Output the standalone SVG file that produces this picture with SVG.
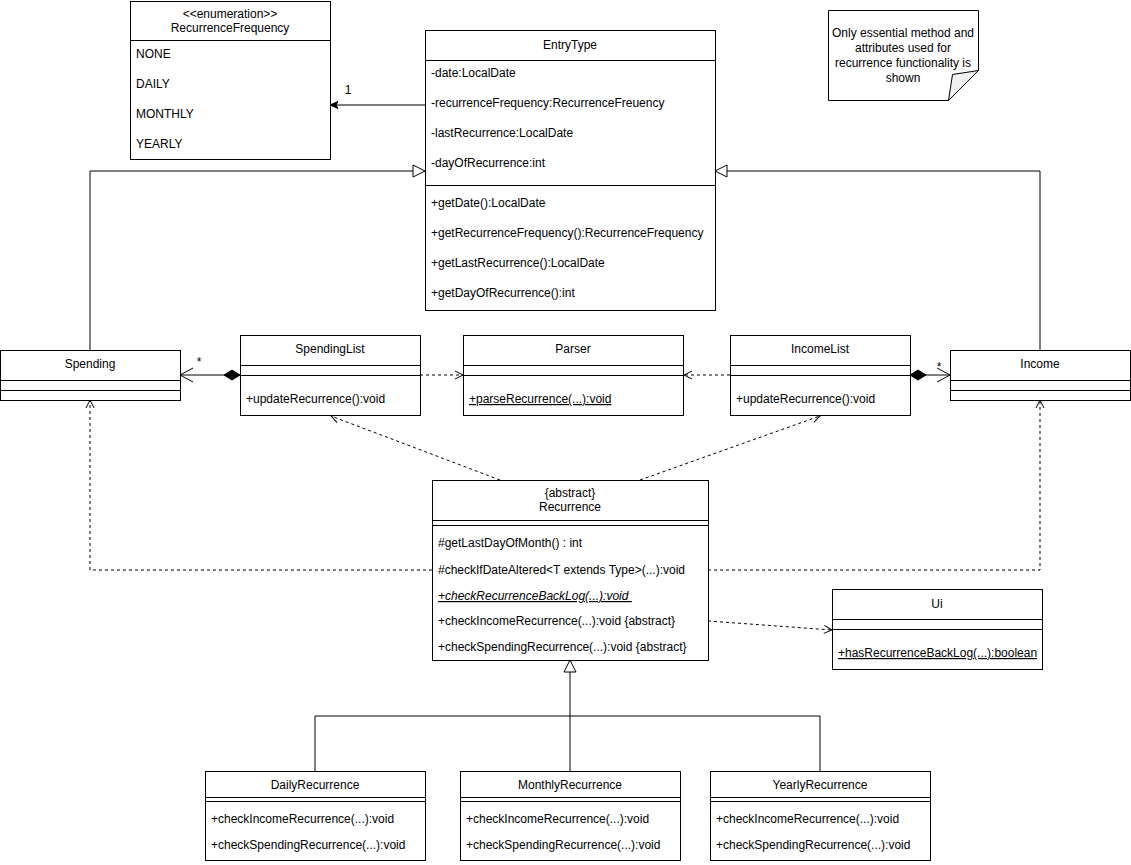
<svg xmlns="http://www.w3.org/2000/svg" width="1131" height="865" viewBox="0 0 1131 865">
<style>
text { font-family: "Liberation Sans", Arial, Helvetica, sans-serif; font-size: 12px; fill: #000; }
.c { text-anchor: middle; }
.box { fill: #fff; stroke: #000; stroke-width: 1; }
.ln { fill: none; stroke: #000; stroke-width: 1; }
.dash { fill: none; stroke: #000; stroke-width: 1; stroke-dasharray: 3,3; }
.u { text-decoration: underline; }
.i { font-style: italic; }
</style>
<defs>
<marker id="open" markerUnits="userSpaceOnUse" markerWidth="12" markerHeight="12" refX="8" refY="4" orient="auto" overflow="visible">
<path d="M0,0 L8,4 L0,8" fill="none" stroke="#000" stroke-width="1"/>
</marker>
<marker id="openBig" markerUnits="userSpaceOnUse" markerWidth="16" markerHeight="16" refX="13" refY="7" orient="auto" overflow="visible">
<path d="M0,0 L13,7 L0,14" fill="none" stroke="#000" stroke-width="1"/>
</marker>
<marker id="tri" markerUnits="userSpaceOnUse" markerWidth="14" markerHeight="14" refX="12" refY="6" orient="auto" overflow="visible">
<path d="M0,0 L12,6 L0,12 Z" fill="#fff" stroke="#000" stroke-width="1"/>
</marker>
<marker id="filled" markerUnits="userSpaceOnUse" markerWidth="10" markerHeight="10" refX="8" refY="3.5" orient="auto" overflow="visible">
<path d="M0,0 L8,3.5 L0,7 L2,3.5 Z" fill="#000" stroke="#000" stroke-width="1"/>
</marker>
<marker id="diamond" markerUnits="userSpaceOnUse" markerWidth="18" markerHeight="12" refX="0" refY="5" orient="auto" overflow="visible">
<path d="M0,5 L8,0 L16,5 L8,10 Z" fill="#000" stroke="#000" stroke-width="1"/>
</marker>
</defs>
<rect width="1131" height="865" fill="#fff"/>

<g id="connectors">
<path class="ln" d="M425,105 L330,105" marker-end="url(#filled)"/>
<text x="348" y="94" class="c">1</text>
<path class="ln" d="M90,350 V171 H425" marker-end="url(#tri)"/>
<path class="ln" d="M1040,350 V171 H715" marker-end="url(#tri)"/>
<path class="ln" d="M240,375 L180,375" marker-start="url(#diamond)" marker-end="url(#openBig)"/>
<text x="199" y="366" class="c">*</text>
<path class="ln" d="M910,375 L950,375" marker-start="url(#diamond)" marker-end="url(#openBig)"/>
<text x="939" y="371" class="c">*</text>
<path class="dash" d="M420,375 L463,375" marker-end="url(#open)"/>
<path class="dash" d="M730,375 L684,375" marker-end="url(#open)"/>
<path class="dash" d="M500,480 L331,416" marker-end="url(#open)"/>
<path class="dash" d="M640,480 L820,416" marker-end="url(#open)"/>
<path class="dash" d="M432,570 H90 V400" marker-end="url(#open)"/>
<path class="dash" d="M708,570 H1040 V400" marker-end="url(#open)"/>
<path class="dash" d="M708,621 L832,630" marker-end="url(#open)"/>
<path class="ln" d="M570,771 V660" marker-end="url(#tri)"/>
<path class="ln" d="M315,771 V716 H820 V771"/>
</g>

<g id="RecurrenceFrequency">
<rect class="box" x="130.5" y="1.5" width="200" height="158"/>
<line class="ln" x1="130.5" y1="40.5" x2="330.5" y2="40.5"/>
<text x="230" y="18" class="c">&lt;&lt;enumeration&gt;&gt;</text>
<text x="230" y="32" class="c">RecurrenceFrequency</text>
<text x="136" y="58">NONE</text>
<text x="136" y="88">DAILY</text>
<text x="136" y="118">MONTHLY</text>
<text x="136" y="148">YEARLY</text>
</g>

<g id="EntryType">
<rect class="box" x="425.5" y="30.5" width="290" height="280"/>
<line class="ln" x1="425.5" y1="60.5" x2="715.5" y2="60.5"/>
<line class="ln" x1="425.5" y1="185.5" x2="715.5" y2="185.5"/>
<text x="570" y="49" class="c">EntryType</text>
<text x="431" y="77">-date:LocalDate</text>
<text x="431" y="107">-recurrenceFrequency:RecurrenceFreuency</text>
<text x="431" y="137">-lastRecurrence:LocalDate</text>
<text x="431" y="167">-dayOfRecurrence:int</text>
<text x="431" y="207">+getDate():LocalDate</text>
<text x="431" y="237">+getRecurrenceFrequency():RecurrenceFrequency</text>
<text x="431" y="267">+getLastRecurrence():LocalDate</text>
<text x="431" y="297">+getDayOfRecurrence():int</text>
</g>

<g id="Note">
<path d="M828.5,10.5 H978.5 V70.5 L948.5,100.5 H828.5 Z" fill="#fff" stroke="#000"/>
<path d="M978.5,70.5 L948.5,100.5 L952.5,74.5 Z" fill="#f0f0f0" stroke="#000"/>
<text x="903" y="37" class="c">Only essential method and</text>
<text x="903" y="52" class="c">attributes used for</text>
<text x="903" y="67" class="c">recurrence functionality is</text>
<text x="903" y="82" class="c">shown</text>
</g>

<g id="Spending">
<rect class="box" x="0.5" y="350.5" width="180" height="50"/>
<line class="ln" x1="0.5" y1="380.5" x2="180.5" y2="380.5"/>
<line class="ln" x1="0.5" y1="390.5" x2="180.5" y2="390.5"/>
<text x="90" y="368" class="c">Spending</text>
</g>

<g id="SpendingList">
<rect class="box" x="240.5" y="335.5" width="180" height="80"/>
<line class="ln" x1="240.5" y1="365.5" x2="420.5" y2="365.5"/>
<line class="ln" x1="240.5" y1="375.5" x2="420.5" y2="375.5"/>
<text x="330" y="353" class="c">SpendingList</text>
<text x="246" y="403">+updateRecurrence():void</text>
</g>

<g id="Parser">
<rect class="box" x="463.5" y="335.5" width="220" height="80"/>
<line class="ln" x1="463.5" y1="365.5" x2="683.5" y2="365.5"/>
<line class="ln" x1="463.5" y1="375.5" x2="683.5" y2="375.5"/>
<text x="573" y="353" class="c">Parser</text>
<text x="469" y="403" class="u">+parseRecurrence(...):void</text>
</g>

<g id="IncomeList">
<rect class="box" x="730.5" y="335.5" width="180" height="80"/>
<line class="ln" x1="730.5" y1="365.5" x2="910.5" y2="365.5"/>
<line class="ln" x1="730.5" y1="375.5" x2="910.5" y2="375.5"/>
<text x="820" y="353" class="c">IncomeList</text>
<text x="736" y="403">+updateRecurrence():void</text>
</g>

<g id="Income">
<rect class="box" x="950.5" y="350.5" width="180" height="50"/>
<line class="ln" x1="950.5" y1="380.5" x2="1130.5" y2="380.5"/>
<line class="ln" x1="950.5" y1="390.5" x2="1130.5" y2="390.5"/>
<text x="1040" y="368" class="c">Income</text>
</g>

<g id="Recurrence">
<rect class="box" x="432.5" y="480.5" width="276" height="180"/>
<line class="ln" x1="432.5" y1="520.5" x2="708.5" y2="520.5"/>
<line class="ln" x1="432.5" y1="525.5" x2="708.5" y2="525.5"/>
<text x="570" y="497" class="c">{abstract}</text>
<text x="570" y="511" class="c">Recurrence</text>
<text x="438" y="547">#getLastDayOfMonth() : int</text>
<text x="438" y="574">#checkIfDateAltered&lt;T extends Type&gt;(...):void</text>
<text x="438" y="600" class="u i" xml:space="preserve">+checkRecurrenceBackLog(...):void </text>
<text x="438" y="625">+checkIncomeRecurrence(...):void {abstract}</text>
<text x="438" y="651">+checkSpendingRecurrence(...):void {abstract}</text>
</g>

<g id="Ui">
<rect class="box" x="832.5" y="589.5" width="210" height="80"/>
<line class="ln" x1="832.5" y1="619.5" x2="1042.5" y2="619.5"/>
<line class="ln" x1="832.5" y1="629.5" x2="1042.5" y2="629.5"/>
<text x="937" y="608" class="c">Ui</text>
<text x="838" y="657" class="u">+hasRecurrenceBackLog(...):boolean</text>
</g>

<g id="DailyRecurrence">
<rect class="box" x="205.5" y="771.5" width="220" height="89"/>
<line class="ln" x1="205.5" y1="797.5" x2="425.5" y2="797.5"/>
<line class="ln" x1="205.5" y1="801.5" x2="425.5" y2="801.5"/>
<text x="315" y="789" class="c">DailyRecurrence</text>
<text x="211" y="823">+checkIncomeRecurrence(...):void</text>
<text x="211" y="849">+checkSpendingRecurrence(...):void</text>
</g>

<g id="MonthlyRecurrence">
<rect class="box" x="460.5" y="771.5" width="220" height="89"/>
<line class="ln" x1="460.5" y1="797.5" x2="680.5" y2="797.5"/>
<line class="ln" x1="460.5" y1="801.5" x2="680.5" y2="801.5"/>
<text x="570" y="789" class="c">MonthlyRecurrence</text>
<text x="466" y="823">+checkIncomeRecurrence(...):void</text>
<text x="466" y="849">+checkSpendingRecurrence(...):void</text>
</g>

<g id="YearlyRecurrence">
<rect class="box" x="710.5" y="771.5" width="220" height="89"/>
<line class="ln" x1="710.5" y1="797.5" x2="930.5" y2="797.5"/>
<line class="ln" x1="710.5" y1="801.5" x2="930.5" y2="801.5"/>
<text x="820" y="789" class="c">YearlyRecurrence</text>
<text x="716" y="823">+checkIncomeRecurrence(...):void</text>
<text x="716" y="849">+checkSpendingRecurrence(...):void</text>
</g>
</svg>
